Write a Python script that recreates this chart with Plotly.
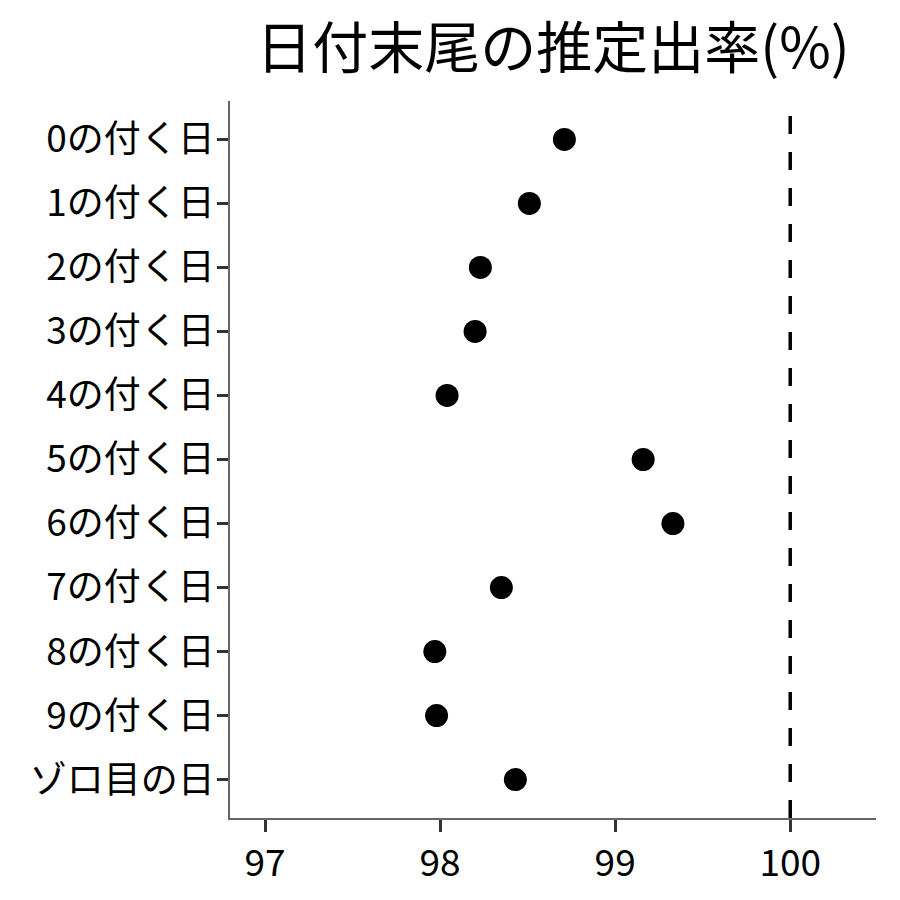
import plotly.graph_objects as go

categories = ["0の付く日", "1の付く日", "2の付く日", "3の付く日", "4の付く日",
              "5の付く日", "6の付く日", "7の付く日", "8の付く日", "9の付く日", "ゾロ目の日"]
rates = [98.71, 98.51, 98.23, 98.20, 98.04, 99.16, 99.33, 98.35, 97.97, 97.98, 98.43]
x_ticks = [97, 98, 99, 100]
ref_value = 100
title_text = "日付末尾の推定出率(%)"

FONT = "Noto Sans CJK JP"

fig = go.Figure()
fig.add_trace(go.Scatter(
    x=rates, y=categories, mode="markers",
    marker=dict(size=23, color="black"),
    showlegend=False, hoverinfo="x+y",
))
fig.add_shape(type="line", xref="x", yref="paper", x0=ref_value, x1=ref_value, y0=0, y1=1,
              line=dict(color="black", width=3.5, dash="18px,18px"))

fig.update_layout(
    width=900, height=900,
    margin=dict(l=222, r=32, t=93, b=90),
    paper_bgcolor="white", plot_bgcolor="white",
    font=dict(family=FONT, color="black", size=37),
    title=dict(text=title_text, x=0.5, xref="paper", xanchor="center",
               y=0.955, yanchor="middle",
               font=dict(family=FONT, size=56, color="black")),
)
fig.update_xaxes(
    range=[96.80, 100.49], tickvals=x_ticks, ticktext=[str(v) for v in x_ticks],
    showgrid=False, zeroline=False, showline=True, linecolor="#666666", linewidth=1.5,
    ticks="outside", ticklen=12, tickwidth=3, tickcolor="#333333",
    tickfont=dict(family=FONT, size=37, color="black"),
)
fig.update_yaxes(
    type="category", categoryorder="array", categoryarray=categories,
    range=[10.6, -0.6],
    showgrid=False, zeroline=False, showline=True, linecolor="#666666", linewidth=1.5,
    ticks="outside", ticklen=11, tickwidth=3, tickcolor="#333333",
    ticklabelstandoff=-5,
    tickfont=dict(family=FONT, size=37, color="black"),
)

fig.write_html("out.html")
